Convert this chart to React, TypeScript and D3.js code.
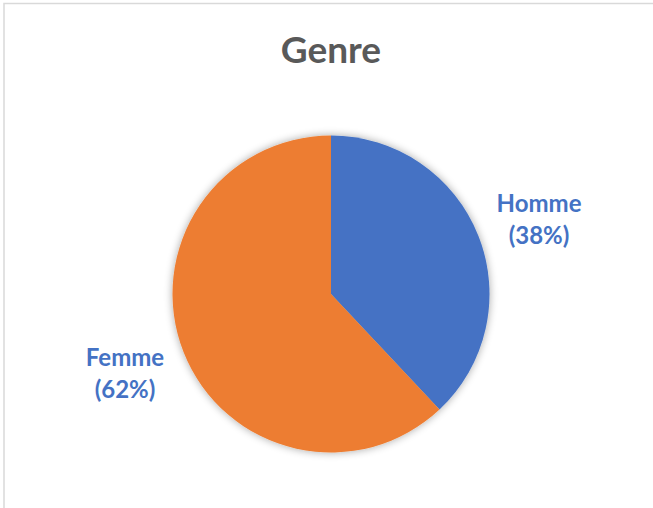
import React from "react";
import * as d3 from "d3";

const categories = ["Homme", "Femme"];
const values = [38, 62];
const colors = ["#4472C4", "#ED7D31"];
const title = "Genre";

const W = 653;
const H = 508;

export default function App() {
  const cx = 331;
  const cy = 294;
  const r = 158.5;
  const pie = d3.pie<number>().sort(null).value((d) => d)(values);
  const arc = d3.arc<d3.PieArcDatum<number>>().innerRadius(0).outerRadius(r);
  const labelPos = [
    { x: 539, y: 212 },
    { x: 125, y: 366 },
  ];
  const font = "Lato, 'Noto Sans', sans-serif";
  return (
    <svg
      width={W}
      height={H}
      style={{ position: "absolute", left: 0, top: 0, background: "#fff" }}
    >
      <defs>
        <filter id="sh" x="-20%" y="-20%" width="140%" height="140%">
          <feGaussianBlur in="SourceAlpha" stdDeviation="4" />
          <feComponentTransfer>
            <feFuncA type="linear" slope="0.35" />
          </feComponentTransfer>
          <feMerge>
            <feMergeNode />
            <feMergeNode in="SourceGraphic" />
          </feMerge>
        </filter>
      </defs>
      <rect x={4} y={3.5} width={W + 20} height={H + 20} fill="#fff" stroke="#d9d9d9" strokeWidth={1.5} />
      <text
        x={331}
        y={63}
        textAnchor="middle"
        fontFamily={font}
        fontWeight="bold"
        fontSize={37}
        fill="#595959"
      >
        {title}
      </text>
      <g transform={`translate(${cx},${cy})`} filter="url(#sh)">
        {pie.map((p, i) => (
          <path key={categories[i]} d={arc(p) || ""} fill={colors[i]} />
        ))}
      </g>
      {pie.map((p, i) => (
        <text
          key={"l" + i}
          x={labelPos[i].x}
          y={labelPos[i].y}
          textAnchor="middle"
          fontFamily={font}
          fontWeight="bold"
          fontSize={24}
          fill="#4472C4"
        >
          <tspan x={labelPos[i].x}>{categories[i]}</tspan>
          <tspan x={labelPos[i].x} dy={32}>{`(${values[i]}%)`}</tspan>
        </text>
      ))}
    </svg>
  );
}
